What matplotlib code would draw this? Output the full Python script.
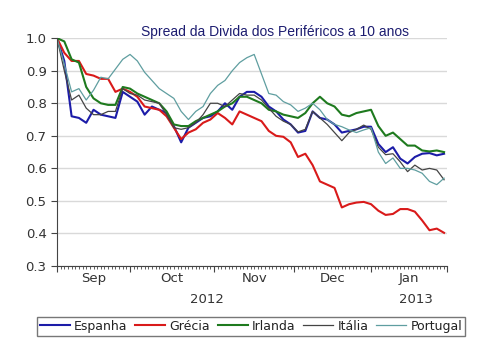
import numpy as np
import pandas as pd
import matplotlib
matplotlib.use('Agg')
import matplotlib.pyplot as plt
import matplotlib.transforms as mtransforms

# business days, Sep 3 2012 .. Jan 29 2013 (values read every 2nd business day)
days = pd.bdate_range('2012-09-03', '2013-01-29')
pos = np.arange(len(days))[::2]

espanha = [1.00, 0.93, 0.76, 0.755, 0.74, 0.78, 0.765, 0.76, 0.755, 0.835,
           0.82, 0.805, 0.765, 0.79, 0.78, 0.77, 0.73, 0.68, 0.725, 0.74,
           0.755, 0.76, 0.775, 0.80, 0.78, 0.82, 0.835, 0.835, 0.82, 0.79,
           0.775, 0.75, 0.735, 0.71, 0.715, 0.775, 0.755, 0.75, 0.735, 0.71,
           0.715, 0.72, 0.728, 0.728, 0.675, 0.65, 0.665, 0.63, 0.615, 0.635,
           0.645, 0.647, 0.64, 0.645]
grecia = [1.00, 0.955, 0.93, 0.93, 0.89, 0.885, 0.875, 0.875, 0.835, 0.845,
          0.835, 0.82, 0.79, 0.785, 0.78, 0.76, 0.725, 0.69, 0.71, 0.72,
          0.74, 0.75, 0.77, 0.755, 0.735, 0.775, 0.765, 0.755, 0.745, 0.715,
          0.70, 0.697, 0.68, 0.635, 0.645, 0.61, 0.56, 0.55, 0.54, 0.48,
          0.49, 0.495, 0.497, 0.49, 0.47, 0.457, 0.46, 0.475, 0.475, 0.467,
          0.44, 0.41, 0.415, 0.402]
irlanda = [1.00, 0.99, 0.935, 0.925, 0.85, 0.815, 0.80, 0.795, 0.795, 0.85,
           0.845, 0.83, 0.82, 0.81, 0.80, 0.775, 0.735, 0.73, 0.73, 0.745,
           0.755, 0.765, 0.775, 0.79, 0.80, 0.82, 0.82, 0.81, 0.80, 0.78,
           0.775, 0.765, 0.76, 0.755, 0.77, 0.80, 0.82, 0.80, 0.79, 0.765,
           0.76, 0.77, 0.775, 0.78, 0.73, 0.70, 0.71, 0.69, 0.67, 0.67,
           0.655, 0.652, 0.655, 0.65]
italia = [1.00, 0.90, 0.81, 0.825, 0.785, 0.765, 0.765, 0.775, 0.775, 0.845,
          0.83, 0.825, 0.81, 0.805, 0.80, 0.765, 0.725, 0.72, 0.725, 0.74,
          0.765, 0.80, 0.80, 0.79, 0.81, 0.83, 0.825, 0.825, 0.81, 0.785,
          0.76, 0.745, 0.735, 0.712, 0.72, 0.775, 0.755, 0.735, 0.71, 0.685,
          0.71, 0.72, 0.733, 0.72, 0.665, 0.642, 0.645, 0.62, 0.59, 0.61,
          0.595, 0.60, 0.595, 0.565]
portugal = [1.00, 0.92, 0.835, 0.845, 0.81, 0.84, 0.88, 0.875, 0.905, 0.935,
            0.95, 0.93, 0.895, 0.87, 0.845, 0.83, 0.815, 0.775, 0.75, 0.775,
            0.79, 0.83, 0.855, 0.87, 0.90, 0.925, 0.94, 0.95, 0.89, 0.83,
            0.825, 0.805, 0.795, 0.775, 0.785, 0.80, 0.78, 0.75, 0.735, 0.728,
            0.718, 0.71, 0.718, 0.725, 0.65, 0.615, 0.632, 0.60, 0.60, 0.595,
            0.585, 0.56, 0.55, 0.57]

series = [('Espanha', espanha, '#1c1ca8', 1.5),
          ('Grécia', grecia, '#d91a1a', 1.5),
          ('Irlanda', irlanda, '#1e7a1e', 1.5),
          ('Itália', italia, '#444444', 0.9),
          ('Portugal', portugal, '#5f9ea0', 0.9)]

fig = plt.figure(figsize=(5.0, 3.6), dpi=100)
ax = fig.add_axes([0.114, 0.261, 0.78, 0.633])

for name, vals, col, lw in series:
    ax.plot(pos, vals, color=col, lw=lw, label=name)

ax.set_ylim(0.3, 1.0)
ax.set_xlim(0, len(days) - 0.2)
ax.set_yticks(np.arange(0.3, 1.01, 0.1))
ax.set_yticklabels(['%.1f' % v for v in np.arange(0.3, 1.01, 0.1)])
ax.yaxis.grid(True, color='#d9d9d9', lw=1)
ax.set_axisbelow(True)

for s in ['top', 'right']:
    ax.spines[s].set_visible(False)
for s in ['left', 'bottom']:
    ax.spines[s].set_color('#444444')

# month boundaries as major ticks, each business day as minor tick
month_start = np.flatnonzero(np.r_[True, days.month[1:] != days.month[:-1]])
edges = list(month_start) + [len(days) - 0.2]
ax.set_xticks(edges)
ax.set_xticklabels([])
ax.set_xticks(np.arange(len(days)), minor=True)
ax.tick_params(axis='x', which='major', length=4, color='#444444')
ax.tick_params(axis='x', which='minor', length=2, width=0.6, color='#444444')
ax.tick_params(axis='y', length=4, color='#444444', labelsize=9.5, labelcolor='#333333')

trans = mtransforms.blended_transform_factory(ax.transData, ax.transAxes)
month_names = [d.strftime('%b') for d in days[month_start]]
for i, name in enumerate(month_names):
    mid = (edges[i] + edges[i + 1]) / 2
    ax.text(mid, -0.055, name, transform=trans, ha='center', va='center',
            fontsize=9.5, color='#333333')
ax.text(edges[0] + (edges[4] - edges[0]) / 2 - 2, -0.145, '2012', transform=trans,
        ha='center', va='center', fontsize=9.5, color='#333333')
ax.text((edges[4] + edges[5]) / 2 + 2, -0.145, '2013', transform=trans,
        ha='center', va='center', fontsize=9.5, color='#333333')

fig.text(0.55, 0.911, 'Spread da Divida dos Periféricos a 10 anos',
         ha='center', va='center', fontsize=10, color='#1c1c70',
         family='Liberation Sans')

leg = fig.legend(loc='center', bbox_to_anchor=(0.502, 0.094), ncol=5,
                 fontsize=9, frameon=True, fancybox=False, handlelength=2.4,
                 handletextpad=0.35, columnspacing=0.6, borderpad=0.25,
                 borderaxespad=0.2)
leg.get_frame().set_edgecolor('#555555')
leg.get_frame().set_linewidth(1.0)
for t in leg.get_texts():
    t.set_color('#222222')

fig.savefig('out.png', dpi=100)
